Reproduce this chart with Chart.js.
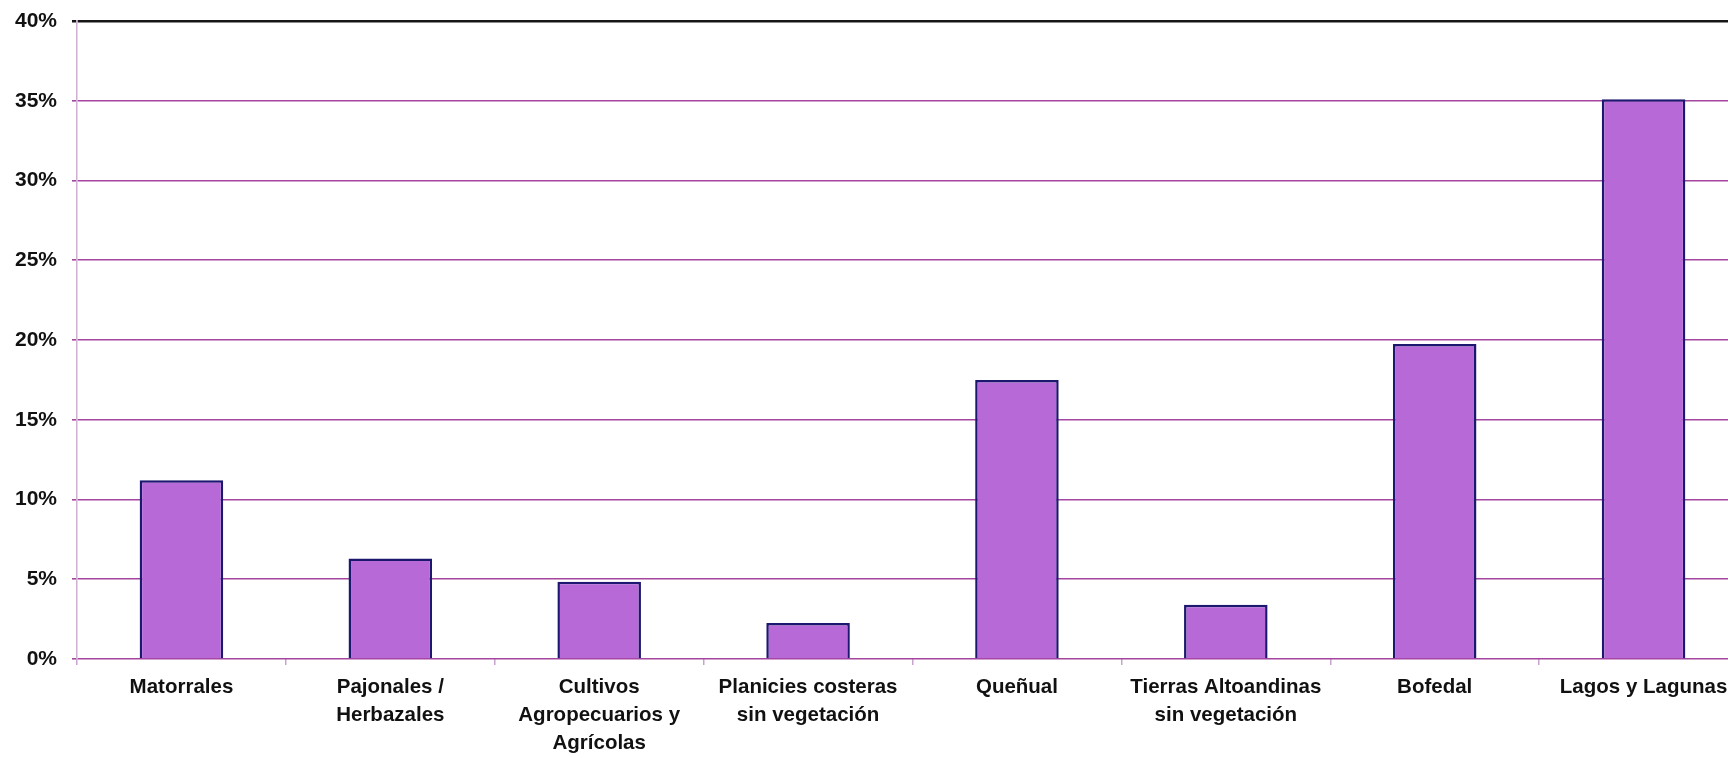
<!DOCTYPE html>
<html>
<head>
<meta charset="utf-8">
<script src="https://cdn.jsdelivr.net/npm/chart.js@4/dist/chart.umd.min.js"></script>
<style>
  html, body { margin: 0; padding: 0; background: #fff; overflow: hidden; }
  #wrap { width: 1750px; height: 758px; }
</style>
</head>
<body>
<div id="wrap">
  <canvas id="coverChart" width="1750" height="758"></canvas>
</div>
<script>
// land cover classes (multi-line labels as arrays)
const categories = [
  ["Matorrales"],
  ["Pajonales /", "Herbazales"],
  ["Cultivos", "Agropecuarios y", "Agrícolas"],
  ["Planicies costeras", "sin vegetación"],
  ["Queñual"],
  ["Tierras Altoandinas", "sin vegetación"],
  ["Bofedal"],
  ["Lagos y Lagunas"]
];
// share of area, percent
const coverPct = [11.2, 6.3, 4.85, 2.25, 17.5, 3.4, 19.75, 35.1];
const yTicks = [0, 5, 10, 15, 20, 25, 30, 35, 40];

Chart.defaults.font.family = '"Liberation Sans", Arial, sans-serif';
Chart.defaults.font.size = 20;
Chart.defaults.font.weight = "bold";
Chart.defaults.color = "#111";

const ctx = document.getElementById("coverChart").getContext("2d");
new Chart(ctx, {
  type: "bar",
  data: {
    labels: categories,
    datasets: [
      {
        data: coverPct,
        backgroundColor: "#b769d8",
        borderColor: "#1c1870",
        borderWidth: 2.5,
        barPercentage: 0.4,
        categoryPercentage: 1
      }
    ]
  },
  options: {
    responsive: false,
    animation: false,
    devicePixelRatio: 1,
    layout: { padding: { top: 21, right: 2, left: 0, bottom: 0 } },
    plugins: {
      legend: { display: false },
      tooltip: { enabled: false }
    },
    scales: {
      x: {
        afterFit: (scale) => { scale.height = 99; },
        grid: {
          offset: true,
          drawOnChartArea: false,
          drawTicks: true,
          tickLength: 6,
          color: "#c9a3cf",
          lineWidth: 1.5
        },
        border: { display: false },
        ticks: {
          padding: 8,
          maxRotation: 0,
          autoSkip: false,
          font: { size: 20.5, weight: "bold", lineHeight: 1.37 }
        }
      },
      y: {
        min: 0,
        max: 40,
        afterFit: (scale) => {
          scale.width = 77;
          // plot top comes from layout padding only
          scale.paddingTop = 0;
        },
        afterBuildTicks: (scale) => {
          scale.ticks = yTicks.map((v) => ({ value: v }));
        },
        grid: {
          drawTicks: true,
          tickLength: 5,
          color: (c) => (c.tick && c.tick.value === 40 ? "#161616" : "#a4469f"),
          lineWidth: (c) => (c.tick && c.tick.value === 40 ? 2.5 : 1.6)
        },
        border: {
          display: true,
          color: "#cfb0d3",
          width: 1.5
        },
        ticks: {
          padding: 15,
          callback: (v) => v + "%",
          font: { size: 21, weight: "bold" }
        }
      }
    }
  }
});
</script>
</body>
</html>
